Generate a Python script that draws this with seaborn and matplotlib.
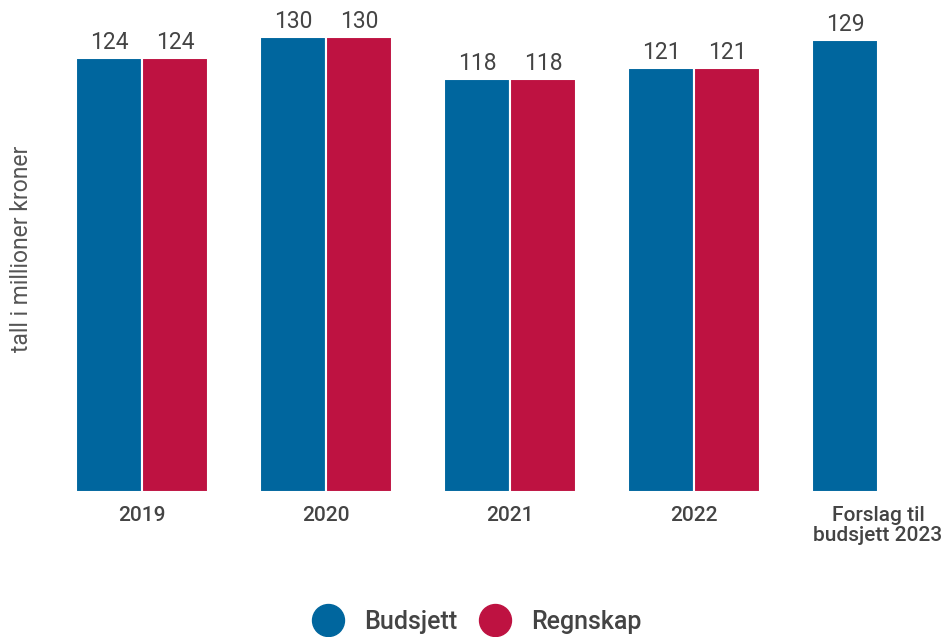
import matplotlib
matplotlib.use("Agg")
import matplotlib.pyplot as plt
from matplotlib.lines import Line2D
import seaborn as sns
import pandas as pd
import numpy as np

# Data (million NOK)
categories = ["2019", "2020", "2021", "2022", "Forslag til\nbudsjett 2023"]
budsjett = [124, 130, 118, 121, 129]
regnskap = [124, 130, 118, 121, np.nan]
series_names = ["Budsjett", "Regnskap"]
colors = ["#00669e", "#be1241"]

df = pd.DataFrame({
    "kategori": categories * 2,
    "verdi": budsjett + regnskap,
    "serie": [series_names[0]] * len(categories) + [series_names[1]] * len(categories),
})

sns.set_theme(style="white")
plt.rcParams["font.family"] = ["Roboto", "DejaVu Sans"]

W, H = 947, 637
fig = plt.figure(figsize=(W / 100, H / 100), dpi=100)
ax = fig.add_axes([50 / W, 145 / H, 897 / W, 482 / H])

sns.barplot(data=df, x="kategori", y="verdi", hue="serie", order=categories,
            hue_order=series_names, palette=colors, width=0.72, dodge=True,
            edgecolor="white", linewidth=1.5, saturation=1, legend=False, ax=ax)

ax.set_xlim(-0.5, 4.375)
ax.set_ylim(0, 137.7)
ax.set_yticks([])
ax.set_xlabel("")
ax.set_ylabel("")
for s in ax.spines.values():
    s.set_visible(False)

# y-axis title
fig.text(22 / W, 1 - 249 / H, "tall i millioner kroner", rotation=90,
         ha="center", va="center", fontsize=16.5, color="#555555")

ax.tick_params(axis="x", length=0, pad=10)
for lbl in ax.get_xticklabels():
    lbl.set_fontsize(15)
    lbl.set_fontweight("medium")
    lbl.set_color("#444444")
    lbl.set_linespacing(1.05)

for cont in ax.containers:
    for bar in cont:
        h = bar.get_height()
        if np.isnan(h) or h == 0:
            continue
        ax.annotate(f"{h:.0f}", (bar.get_x() + bar.get_width() / 2, h),
                    xytext=(0, 3), textcoords="offset points",
                    ha="center", va="bottom", fontsize=16.5, color="#444444")

handles = [Line2D([], [], marker="o", linestyle="", markersize=23,
                  markerfacecolor=c, markeredgecolor=c) for c in colors]
fig.legend(handles, series_names, loc="center", bbox_to_anchor=(476 / W, 1 - 622 / H),
           ncol=2, frameon=False, handlelength=1.4, handletextpad=0.75,
           columnspacing=0.78, labelcolor="#444444",
           prop={"weight": "medium", "size": 18})

fig.savefig("out.png", dpi=100)
